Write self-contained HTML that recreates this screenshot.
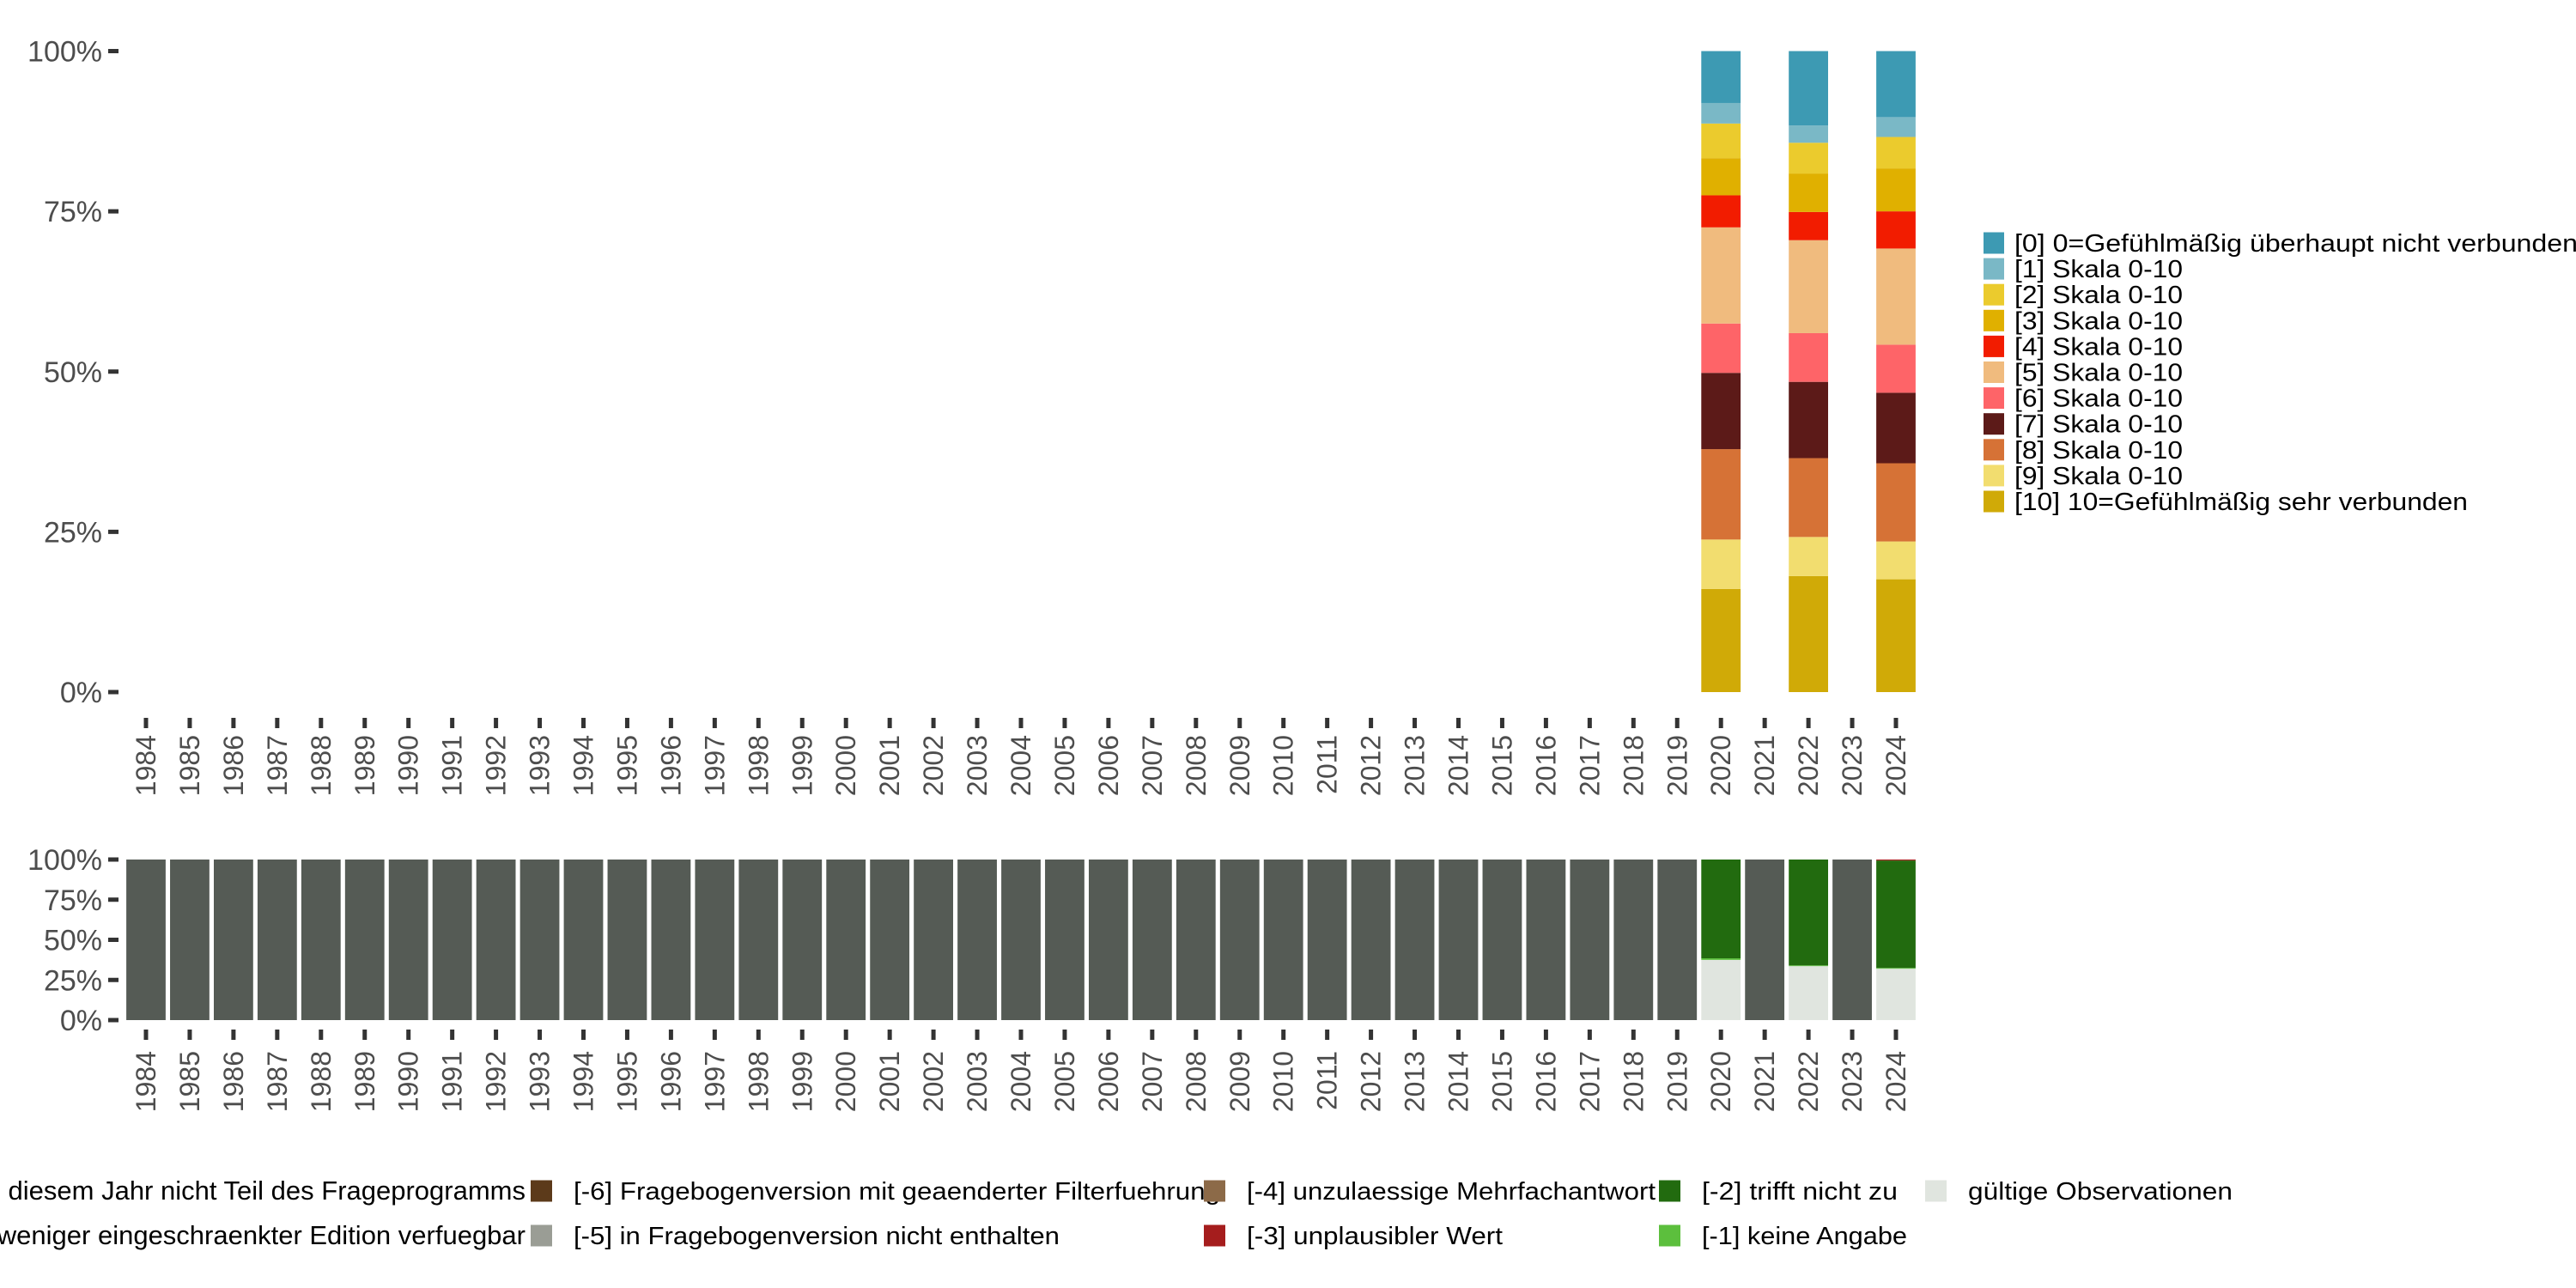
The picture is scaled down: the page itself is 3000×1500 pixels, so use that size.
<!DOCTYPE html>
<html><head><meta charset="utf-8">
<style>
html,body{margin:0;padding:0;background:#fff;}
svg{display:block;font-family:"Liberation Sans","DejaVu Sans",sans-serif;}
</style></head>
<body>
<svg id="chart" width="3000" height="1500" viewBox="0 0 3000 1500" xmlns="http://www.w3.org/2000/svg">
<g id="top"></g>
<g id="bottom"></g>
<g id="legR"></g>
<g id="legB"></g>
</svg>
<script>
const years = [];
for (let y = 1984; y <= 2024; y++) years.push(y);
const topYears = [2020, 2022, 2024];
const topLabels = ["[0] 0=Gefühlmäßig überhaupt nicht verbunden","[1] Skala 0-10","[2] Skala 0-10","[3] Skala 0-10","[4] Skala 0-10","[5] Skala 0-10","[6] Skala 0-10","[7] Skala 0-10","[8] Skala 0-10","[9] Skala 0-10","[10] 10=Gefühlmäßig sehr verbunden"];
const topColors = ["#3d9ab3","#7ab8c6","#ebcb2d","#e0b000","#f21c00","#f0bb7e","#fe6468","#5c1a18","#d67236","#f2dd6f","#d0aa07"];
// values in % per category [0]..[10] for each survey year
const v2020 = [8.1,3.2,5.4,5.8,5.0,15.0,7.7,11.9,14.1,7.7,16.1];
const v2022 = [11.6,2.7,4.8,6.0,4.4,14.5,7.6,11.9,12.3,6.1,18.1];
const v2024 = [10.3,3.1,4.9,6.7,5.8,15.0,7.5,11.0,12.2,5.9,17.6];
const topValues = [v2020, v2022, v2024];
const yTicks = [0, 25, 50, 75, 100];
const yTickLabels = ["0%","25%","50%","75%","100%"];

const botLabels = ["[-8] Frage in diesem Jahr nicht Teil des Frageprogramms","[-7] Nur in weniger eingeschraenkter Edition verfuegbar","[-6] Fragebogenversion mit geaenderter Filterfuehrung","[-5] in Fragebogenversion nicht enthalten","[-4] unzulaessige Mehrfachantwort","[-3] unplausibler Wert","[-2] trifft nicht zu","[-1] keine Angabe","gültige Observationen"];
const botColors = ["#555b55","#7f847d","#5c3a1a","#9a9d95","#8c6a48","#a51d1d","#226b0f","#5cbf3d","#e0e5df"];
// bottom stacks (from bottom): gültige, [-1], [-2], [-3]
const bValid = {2020:37.5, 2022:33.6, 2024:32.0};
const bNoAns = {2020:1.0, 2022:0.5, 2024:0.5};
const bImpl = {2020:0, 2022:0, 2024:0.6};

const NS = "http://www.w3.org/2000/svg";
function mk(tag, attrs, parent, txt){const e=document.createElementNS(NS,tag);for(const k in attrs)e.setAttribute(k,attrs[k]);if(txt!==undefined)e.textContent=txt;parent.appendChild(e);return e;}
const X0 = 170, DX = 50.95, BW = 45.8;
const xC = y => X0 + (y - 1984) * DX;
const yTop = v => 806 - (v / 100) * (806 - 59.5);
const yBot = v => 1188 - (v / 100) * (1188 - 1001);

function axes(g, yf, tickTop, labY){
  yTicks.forEach((t,i)=>{
    const l = mk('line',{x1:126,x2:138,y1:yf(t),y2:yf(t),stroke:'#333',"stroke-width":5},g);
    
    
    const tx = mk('text',{x:119,y:yf(t)+12,"text-anchor":"end","font-size":34,fill:'#4d4d4d'},g,yTickLabels[i]);
    
    
  });
  years.forEach(y=>{
    const x = xC(y);
    const l = mk('line',{x1:x,x2:x,y1:tickTop,y2:tickTop+12,stroke:'#333',"stroke-width":5},g);
    
    
    const tx = mk('text',{x:0,y:0,"font-size":32,fill:'#4d4d4d',"text-anchor":"end",transform:`translate(${x+11},${labY}) rotate(-90)`},g,String(y));
    
    
  });
}
const gT = document.getElementById('top');
axes(gT, yTop, 836, 856);
topYears.forEach((yr,k)=>{
  const vals = topValues[k];
  let cum = 0;
  for (let c = vals.length-1; c >= 0; c--){
    const y0 = yTop(cum), y1 = yTop(cum+vals[c]);
    const r = mk('rect',{x:xC(yr)-BW/2,y:y1,width:BW,height:y0-y1,fill:topColors[c]},gT);
    
    
    cum += vals[c];
  }
});
const gB = document.getElementById('bottom');
axes(gB, yBot, 1199, 1224);
years.forEach(yr=>{
  const x = xC(yr)-BW/2;
  if (bValid[yr] === undefined){
    const r = mk('rect',{x:x,y:yBot(100),width:BW,height:yBot(0)-yBot(100),fill:botColors[0]},gB);
    
    
  } else {
    const parts = [[bValid[yr],8],[bNoAns[yr],7],[100-bValid[yr]-bNoAns[yr]-bImpl[yr],6],[bImpl[yr],5]];
    let cum = 0;
    parts.forEach(p=>{
      if (p[0] <= 0) return;
      const y0 = yBot(cum), y1 = yBot(cum+p[0]);
      const r = mk('rect',{x:x,y:y1,width:BW,height:y0-y1,fill:botColors[p[1]]},gB);
      
      
      cum += p[0];
    });
  }
});
const gR = document.getElementById('legR');
const rLens = [656,196,196,196,196,196,196,196,196,196,528];
topLabels.forEach((lab,i)=>{
  const cy = 283 + i*30.1;
  const r = mk('rect',{x:2310,y:cy-12.5,width:24,height:25,fill:topColors[i]},gR);
  
  
  const t = mk('text',{x:2346,y:cy+10,"font-size":29,fill:'#000',textLength:rLens[i],lengthAdjust:'spacingAndGlyphs'},gR,lab);
  
  
});
const gL = document.getElementById('legB');
const colX = [-40, 618, 1402, 1932, 2242];
const rowY = [1387, 1439];
const layout = [[0,0],[0,1],[1,0],[1,1],[2,0],[2,1],[3,0],[3,1],[4,0]];
const bLens = [0,0,753,566,476,298,228,239,308];
layout.forEach((p,i)=>{
  const cx = colX[p[0]], cy = rowY[p[1]];
  const r = mk('rect',{x:cx,y:cy-12.5,width:25,height:25,fill:botColors[i]},gL);
  
  
  let t;
  if (p[0] === 0){
    t = mk('text',{x:612,y:cy+10,"font-size":31,fill:'#000',"text-anchor":"end"},gL,botLabels[i]);
  } else {
    t = mk('text',{x:cx+50,y:cy+10,"font-size":29,fill:'#000',textLength:bLens[i],lengthAdjust:'spacingAndGlyphs'},gL,botLabels[i]);
  }
  
  
});
</script>
</body></html>
